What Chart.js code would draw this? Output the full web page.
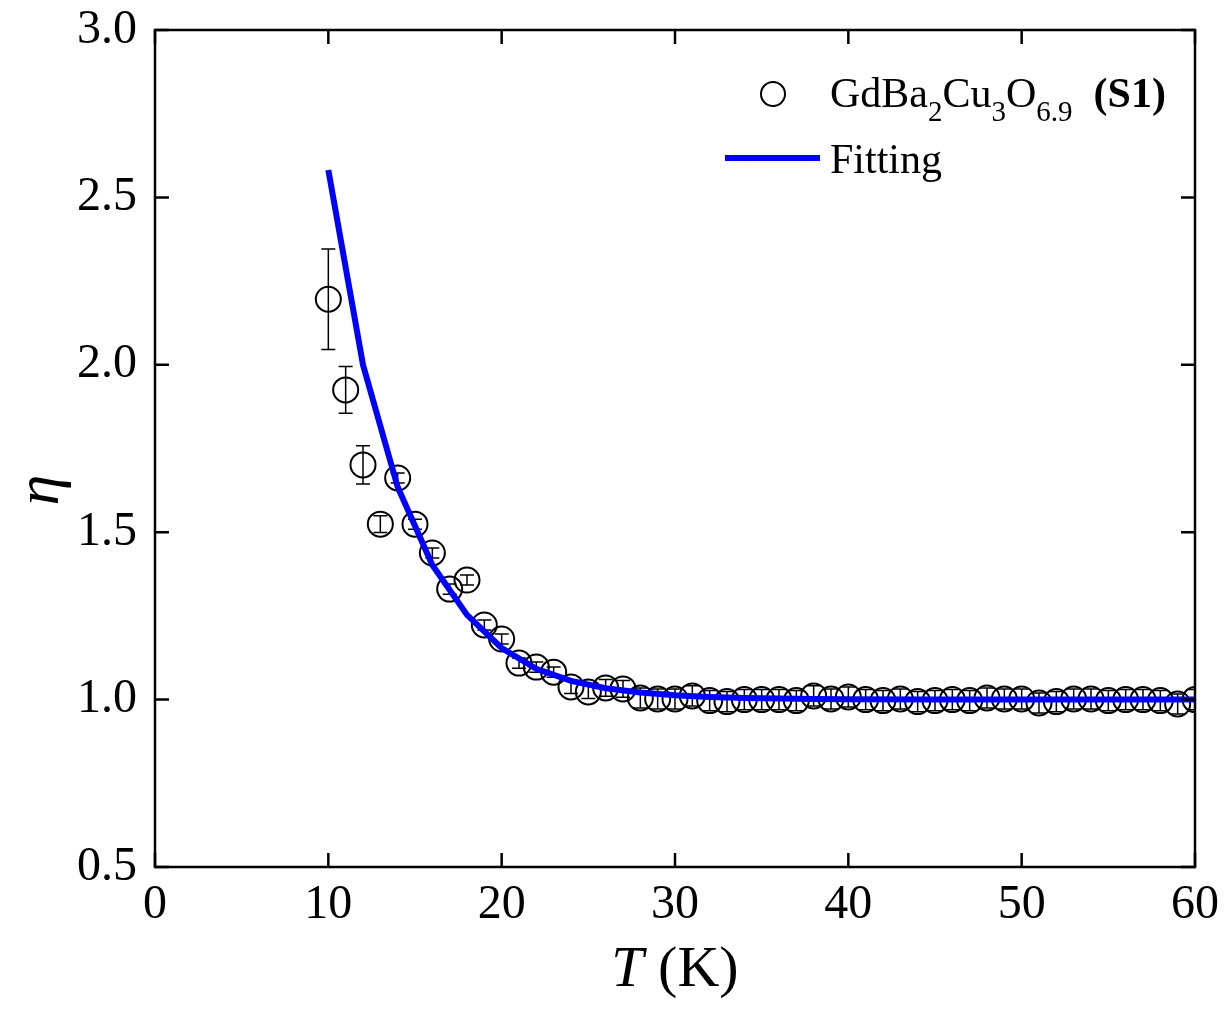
<!DOCTYPE html>
<html>
<head>
<meta charset="utf-8">
<script src="https://cdn.jsdelivr.net/npm/chart.js@4.4.0/dist/chart.umd.min.js"></script>
<style>
  html, body { margin: 0; padding: 0; background: #fff; }
  #wrap { width: 1231px; height: 1018px; }
</style>
</head>
<body>
<div id="wrap"><canvas id="myChart" width="1231" height="1018"></canvas></div>
<script>
const canvas = document.getElementById('myChart')

// measured data, T in K
const temps = [10, 11, 12, 13, 14, 15, 16, 17, 18, 19, 20, 21, 22, 23, 24, 25, 26, 27, 28, 29,
  30, 31, 32, 33, 34, 35, 36, 37, 38, 39, 40, 41, 42, 43, 44, 45, 46, 47, 48, 49,
  50, 51, 52, 53, 54, 55, 56, 57, 58, 59, 60]
const eta = [2.196, 1.925, 1.701, 1.524, 1.662, 1.524, 1.438, 1.33, 1.357, 1.223, 1.181, 1.109, 1.097, 1.082, 1.038, 1.023, 1.035, 1.032, 1.005, 1.002,
  1.002, 1.011, 0.997, 0.994, 1.0, 1.0, 1.0, 0.997, 1.011, 1.002, 1.008, 1.0, 0.997, 1.002, 0.994, 0.997, 1.0, 0.997, 1.005, 1.002,
  1.002, 0.99, 0.994, 1.002, 1.002, 0.997, 1.0, 1.0, 0.997, 0.987, 1.0]
const etaErr = [0.15, 0.07, 0.057, 0.025, 0.015, 0.015, 0.015, 0.015, 0.015, 0.015, 0.015, 0.015, 0.015, 0.015, 0.02, 0.02, 0.025, 0.025, 0.03, 0.03,
  0.03, 0.03, 0.03, 0.03, 0.03, 0.03, 0.03, 0.03, 0.03, 0.03, 0.03, 0.03, 0.03, 0.03, 0.03, 0.03, 0.03, 0.03, 0.03, 0.03,
  0.03, 0.03, 0.03, 0.03, 0.03, 0.03, 0.03, 0.03, 0.03, 0.03, 0.03]

// fitting curve
const fitT = [10, 12, 14, 16, 18, 20, 22, 24, 26, 28, 30, 32, 34, 36, 38, 40, 45, 50, 55, 60]
const fitEta = [2.582, 2.0, 1.635, 1.402, 1.253, 1.154, 1.092, 1.056, 1.034, 1.021, 1.013, 1.008, 1.005, 1.003, 1.002, 1.001, 1.0, 1.0, 1.0, 1.0]

const xTicks = [0, 10, 20, 30, 40, 50, 60]
const yTicks = [0.5, 1.0, 1.5, 2.0, 2.5, 3.0]

const serif = '"Liberation Serif", "Times New Roman", serif'

// error bars drawn under the circles
const errorBars = {
    id: 'errorBars',
    beforeDatasetsDraw(chart) {
        const {ctx, chartArea, scales: {x, y}} = chart
        ctx.save()
        ctx.beginPath()
        ctx.rect(chartArea.left, chartArea.top, chartArea.right - chartArea.left, chartArea.bottom - chartArea.top)
        ctx.clip()
        ctx.strokeStyle = '#000'
        ctx.lineWidth = 1.5
        temps.forEach((t, i) => {
            const px = x.getPixelForValue(t)
            const top = y.getPixelForValue(eta[i] + etaErr[i])
            const bot = y.getPixelForValue(eta[i] - etaErr[i])
            ctx.beginPath()
            ctx.moveTo(px, top); ctx.lineTo(px, bot)
            ctx.moveTo(px - 7, top); ctx.lineTo(px + 7, top)
            ctx.moveTo(px - 7, bot); ctx.lineTo(px + 7, bot)
            ctx.stroke()
        })
        ctx.restore()
    }
}

// frame, inward ticks, axis titles and legend
const frame = {
    id: 'frame',
    afterDraw(chart) {
        const {ctx, chartArea: a, scales: {x, y}} = chart
        ctx.save()
        ctx.strokeStyle = '#000'
        ctx.lineWidth = 2.5
        ctx.strokeRect(a.left, a.top, a.right - a.left, a.bottom - a.top)
        ctx.beginPath()
        xTicks.forEach(v => {
            const px = x.getPixelForValue(v)
            ctx.moveTo(px, a.bottom); ctx.lineTo(px, a.bottom - 14)
            ctx.moveTo(px, a.top); ctx.lineTo(px, a.top + 14)
        })
        yTicks.forEach(v => {
            const py = y.getPixelForValue(v)
            ctx.moveTo(a.left, py); ctx.lineTo(a.left + 14, py)
            ctx.moveTo(a.right, py); ctx.lineTo(a.right - 14, py)
        })
        ctx.stroke()

        ctx.fillStyle = '#000'
        ctx.textBaseline = 'alphabetic'
        // x title: T (K)
        ctx.font = 'italic 58px ' + serif
        const wT = ctx.measureText('T').width
        ctx.font = '58px ' + serif
        const wK = ctx.measureText(' (K)').width
        let sx = (a.left + a.right) / 2 - (wT + wK) / 2
        ctx.font = 'italic 58px ' + serif
        ctx.fillText('T', sx, 986)
        ctx.font = '58px ' + serif
        ctx.fillText(' (K)', sx + wT, 986)

        // y title
        ctx.save()
        ctx.translate(58, 490)
        ctx.rotate(-Math.PI / 2)
        ctx.font = 'italic 62px ' + serif
        ctx.textAlign = 'center'
        ctx.fillText('η', 0, 0)
        ctx.restore()

        // legend
        ctx.lineWidth = 2
        ctx.beginPath()
        ctx.arc(773, 94, 12, 0, Math.PI * 2)
        ctx.stroke()
        let lx = 830
        const base = 107
        const parts = [['GdBa', 42, 0, ''], ['2', 29, 14, ''], ['Cu', 42, 0, ''], ['3', 29, 14, ''], ['O', 42, 0, ''], ['6.9', 29, 14, ''], ['  ', 42, 0, ''], ['(S1)', 42, 0, 'bold ']]
        parts.forEach(([s, size, dy, w]) => {
            ctx.font = w + size + 'px ' + serif
            ctx.fillText(s, lx, base + dy)
            lx += ctx.measureText(s).width
        })
        ctx.strokeStyle = '#0000ff'
        ctx.lineWidth = 6
        ctx.beginPath()
        ctx.moveTo(725, 158); ctx.lineTo(820, 158)
        ctx.stroke()
        ctx.font = '42px ' + serif
        ctx.fillText('Fitting', 830, 173)
        ctx.restore()
    }
}

const config = {
    type: 'scatter',
    data: {
        datasets: [{
            label: 'Fitting',
            data: fitT.map((t, i) => ({x: t, y: fitEta[i]})),
            showLine: true,
            borderColor: '#0000ff',
            borderWidth: 6,
            pointRadius: 0,
            fill: false,
            tension: 0,
            order: 1
        }, {
            label: 'GdBa2Cu3O6.9 (S1)',
            data: temps.map((t, i) => ({x: t, y: eta[i]})),
            pointStyle: 'circle',
            pointRadius: 12.5,
            pointBorderWidth: 2,
            borderColor: '#000',
            backgroundColor: 'rgba(0,0,0,0)',
            showLine: false,
            order: 2
        }]
    },
    options: {
        responsive: false,
        animation: false,
        clip: 0,
        layout: {padding: {top: 30, right: 36, left: 0, bottom: 0}},
        plugins: {legend: {display: false}, tooltip: {enabled: false}},
        scales: {
            x: {
                type: 'linear', min: 0, max: 60,
                grid: {display: false, drawTicks: false},
                border: {display: false},
                afterBuildTicks: s => { s.ticks = xTicks.map(v => ({value: v})) },
                afterFit: s => { s.height = 151; s.paddingLeft = 0; s.paddingRight = 0 },
                ticks: {color: '#000', padding: 10, font: {family: serif, size: 48}}
            },
            y: {
                type: 'linear', min: 0.5, max: 3.0,
                grid: {display: false, drawTicks: false},
                border: {display: false},
                afterBuildTicks: s => { s.ticks = yTicks.map(v => ({value: v})) },
                afterFit: s => { s.width = 155; s.paddingTop = 0; s.paddingBottom = 0 },
                ticks: {color: '#000', padding: 18, font: {family: serif, size: 48},
                    callback: v => Number(v).toFixed(1)}
            }
        }
    },
    plugins: [errorBars, frame]
}

new Chart(canvas, config)
</script>
</body>
</html>
